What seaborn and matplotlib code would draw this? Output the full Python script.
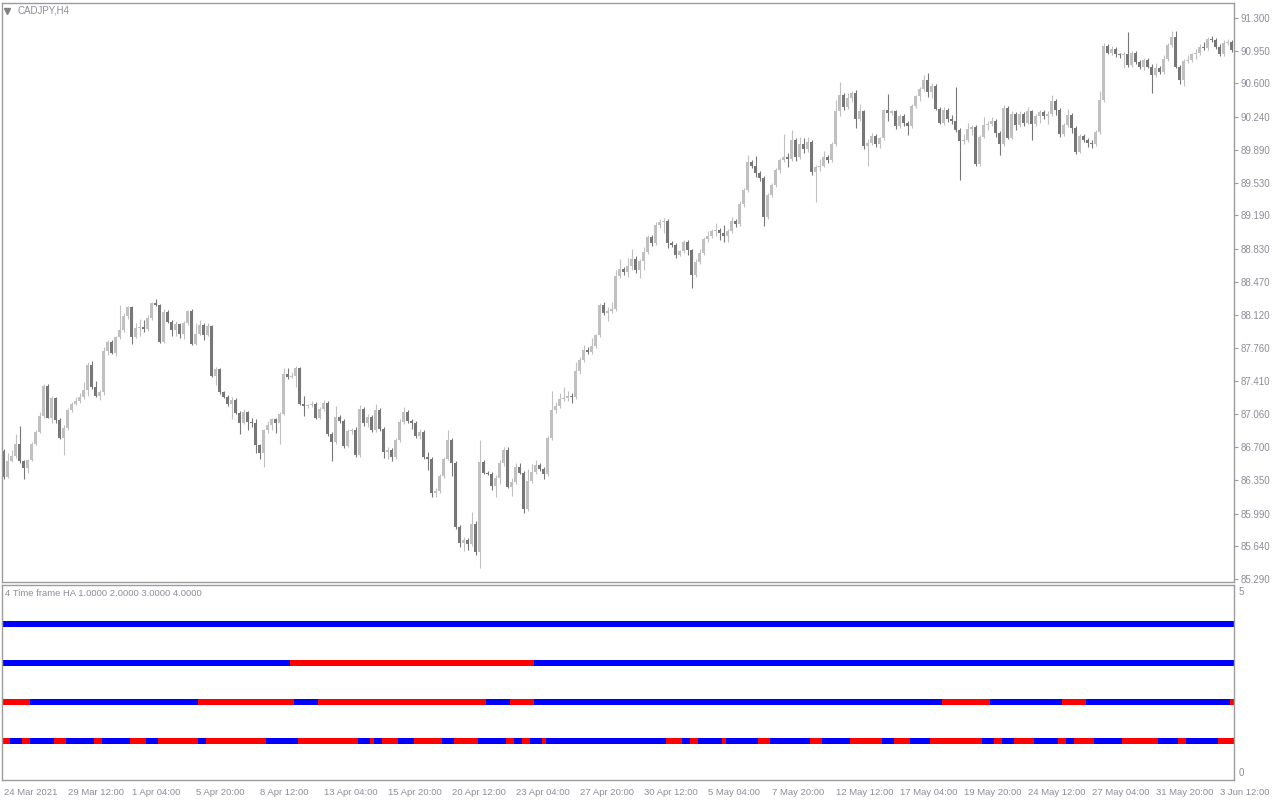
import numpy as np
import pandas as pd
import seaborn as sns
import matplotlib
matplotlib.use('Agg')
import matplotlib.pyplot as plt

# chart texts
symbol_label = 'CADJPY,H4'
indicator_label = '4 Time frame HA 1.0000 2.0000 3.0000 4.0000'

# H4 candles
opens = [
    86.66, 86.38, 86.55, 86.61, 86.74, 86.55, 86.48, 86.56, 86.74, 86.87,
    87.04, 87.36, 87.02, 87.23, 86.99, 86.80, 86.91, 87.10, 87.17, 87.20,
    87.24, 87.31, 87.58, 87.35, 87.25, 87.29, 87.73, 87.83, 87.71, 87.88,
    87.96, 88.11, 88.20, 87.88, 87.98, 87.99, 87.97, 88.09, 88.25, 88.23,
    87.83, 88.15, 88.04, 87.96, 88.02, 87.92, 88.03, 88.16, 87.81, 87.91,
    88.01, 87.90, 88.00, 87.46, 87.54, 87.29, 87.24, 87.17, 87.21, 87.07,
    86.96, 87.08, 86.97, 86.96, 86.73, 86.64, 86.89, 86.94, 87.00, 86.96,
    87.06, 87.49, 87.45, 87.47, 87.55, 87.17, 87.14, 87.15, 87.17, 87.02,
    87.11, 87.18, 86.84, 86.76, 87.03, 86.98, 86.72, 86.88, 86.89, 86.62,
    87.11, 86.96, 87.03, 86.89, 87.10, 86.90, 86.65, 86.67, 86.60, 86.78,
    86.97, 87.08, 86.98, 86.96, 86.82, 86.87, 86.60, 86.58, 86.21, 86.23,
    86.39, 86.58, 86.78, 86.53, 85.85, 85.68, 85.71, 85.66, 85.88, 85.58,
    86.54, 86.43, 86.42, 86.29, 86.37, 86.53, 86.67, 86.28, 86.33, 86.49,
    86.43, 86.04, 86.34, 86.44, 86.51, 86.47, 86.41, 86.80, 87.10, 87.14,
    87.22, 87.23, 87.25, 87.24, 87.52, 87.64, 87.74, 87.72, 87.79, 87.90,
    88.23, 88.14, 88.16, 88.18, 88.54, 88.61, 88.58, 88.64, 88.72, 88.60,
    88.70, 88.79, 88.95, 88.89, 89.08, 89.12, 89.13, 88.89, 88.87, 88.76,
    88.80, 88.90, 88.81, 88.55, 88.69, 88.78, 88.93, 88.96, 89.02, 89.03,
    89.00, 88.97, 89.02, 89.13, 89.09, 89.31, 89.46, 89.76, 89.71, 89.64,
    89.59, 89.17, 89.40, 89.51, 89.67, 89.78, 89.81, 89.79, 89.99, 89.81,
    89.95, 89.90, 89.97, 89.65, 89.70, 89.72, 89.81, 89.78, 89.95, 90.30,
    90.48, 90.35, 90.44, 90.50, 90.22, 90.30, 89.93, 89.96, 90.04, 89.95,
    90.01, 90.31, 90.28, 90.30, 90.14, 90.25, 90.18, 90.14, 90.36, 90.46,
    90.54, 90.64, 90.51, 90.57, 90.33, 90.18, 90.31, 90.22, 90.20, 90.10,
    89.98, 89.99, 90.11, 90.13, 89.74, 90.03, 90.15, 90.16, 90.20, 90.07,
    89.95, 90.34, 90.02, 90.27, 90.15, 90.27, 90.18, 90.30, 90.16, 90.25,
    90.29, 90.25, 90.27, 90.41, 90.32, 90.06, 90.15, 90.26, 90.12, 89.87,
    90.04, 89.99, 89.96, 89.95, 90.08, 90.42, 91.00, 90.93, 90.97, 90.91,
    90.90, 90.91, 90.80, 90.93, 90.83, 90.77, 90.85, 90.78, 90.69, 90.76,
    90.72, 90.86, 91.01, 91.10, 90.78, 90.64, 90.84, 90.85, 90.91, 90.92,
    90.99, 90.98, 91.08, 91.06, 90.99, 90.91, 91.03, 91.04,
]
highs = [
    86.68, 86.64, 86.67, 86.84, 86.93, 86.56, 86.58, 86.76, 86.89, 87.08,
    87.38, 87.38, 87.25, 87.24, 87.01, 86.94, 87.12, 87.19, 87.24, 87.28,
    87.40, 87.62, 87.63, 87.41, 87.31, 87.78, 87.85, 87.85, 87.89, 88.23,
    88.14, 88.21, 88.21, 88.03, 88.08, 88.06, 88.12, 88.26, 88.29, 88.24,
    88.18, 88.17, 88.07, 88.05, 88.03, 88.05, 88.17, 88.18, 88.03, 88.06,
    88.03, 88.03, 88.01, 87.56, 87.55, 87.30, 87.26, 87.24, 87.23, 87.09,
    87.11, 87.09, 87.01, 87.00, 86.74, 86.90, 86.98, 87.01, 87.02, 87.08,
    87.55, 87.55, 87.51, 87.57, 87.56, 87.25, 87.17, 87.20, 87.19, 87.13,
    87.21, 87.20, 86.86, 87.14, 87.05, 87.00, 86.90, 86.91, 86.92, 87.15,
    87.13, 87.06, 87.05, 87.17, 87.12, 86.92, 86.70, 86.69, 86.80, 87.00,
    87.13, 87.10, 87.00, 86.98, 86.90, 86.89, 86.65, 86.60, 86.26, 86.41,
    86.60, 86.89, 86.80, 86.55, 85.87, 85.74, 85.73, 86.01, 85.91, 86.78,
    86.56, 86.45, 86.44, 86.40, 86.56, 86.70, 86.70, 86.37, 86.53, 86.53,
    86.45, 86.47, 86.52, 86.56, 86.53, 86.49, 86.82, 87.30, 87.19, 87.28,
    87.35, 87.30, 87.28, 87.61, 87.67, 87.80, 87.78, 87.87, 87.92, 88.25,
    88.26, 88.20, 88.26, 88.60, 88.72, 88.63, 88.73, 88.83, 88.75, 88.72,
    88.85, 88.98, 88.98, 89.11, 89.15, 89.16, 89.15, 88.91, 88.89, 88.82,
    88.92, 88.92, 88.83, 88.72, 88.83, 88.95, 89.02, 89.04, 89.10, 89.05,
    89.08, 89.04, 89.17, 89.15, 89.34, 89.48, 89.83, 89.78, 89.82, 89.66,
    89.61, 89.43, 89.53, 89.69, 89.80, 90.06, 89.85, 90.10, 90.02, 90.03,
    90.02, 90.03, 89.99, 89.73, 89.79, 89.88, 89.83, 89.97, 90.42, 90.62,
    90.50, 90.50, 90.52, 90.53, 90.38, 90.32, 90.00, 90.07, 90.06, 90.03,
    90.33, 90.49, 90.32, 90.32, 90.27, 90.27, 90.20, 90.38, 90.48, 90.56,
    90.69, 90.71, 90.60, 90.59, 90.35, 90.35, 90.34, 90.26, 90.56, 90.12,
    90.06, 90.18, 90.15, 90.15, 90.05, 90.24, 90.20, 90.24, 90.22, 90.09,
    90.37, 90.36, 90.30, 90.29, 90.30, 90.29, 90.35, 90.32, 90.27, 90.31,
    90.31, 90.30, 90.48, 90.43, 90.34, 90.18, 90.33, 90.28, 90.14, 90.06,
    90.06, 90.01, 89.99, 90.10, 90.52, 91.03, 91.02, 91.00, 90.99, 90.93,
    90.94, 91.15, 90.95, 90.95, 90.85, 90.87, 90.87, 90.81, 90.82, 90.79,
    90.90, 91.03, 91.16, 91.16, 90.80, 90.86, 90.90, 90.93, 90.97, 91.02,
    91.04, 91.10, 91.11, 91.09, 91.02, 91.06, 91.08, 91.06,
]
lows = [
    86.36, 86.37, 86.54, 86.59, 86.53, 86.36, 86.43, 86.55, 86.73, 86.85,
    87.01, 87.01, 86.96, 86.96, 86.79, 86.62, 86.89, 87.08, 87.15, 87.18,
    87.22, 87.25, 87.33, 87.24, 87.21, 87.26, 87.69, 87.70, 87.68, 87.86,
    87.94, 88.08, 87.81, 87.87, 87.89, 87.94, 87.95, 88.06, 88.21, 87.82,
    87.82, 88.03, 87.89, 87.89, 87.87, 87.86, 88.01, 87.80, 87.80, 87.90,
    87.85, 87.89, 87.45, 87.37, 87.27, 87.23, 87.14, 87.00, 87.06, 86.84,
    86.95, 86.89, 86.92, 86.64, 86.58, 86.49, 86.85, 86.89, 86.85, 86.74,
    87.05, 87.43, 87.44, 87.35, 87.15, 87.04, 87.12, 87.13, 87.00, 87.00,
    87.09, 86.82, 86.55, 86.74, 86.96, 86.69, 86.70, 86.84, 86.60, 86.60,
    86.93, 86.92, 86.87, 86.87, 86.88, 86.59, 86.58, 86.55, 86.58, 86.76,
    86.95, 86.96, 86.90, 86.80, 86.79, 86.58, 86.46, 86.17, 86.17, 86.21,
    86.37, 86.56, 86.39, 85.83, 85.63, 85.59, 85.60, 85.64, 85.55, 85.41,
    86.41, 86.40, 86.24, 86.17, 86.31, 86.50, 86.26, 86.18, 86.31, 86.41,
    86.00, 86.02, 86.32, 86.42, 86.45, 86.36, 86.39, 86.78, 87.07, 87.12,
    87.20, 87.20, 87.18, 87.22, 87.49, 87.62, 87.70, 87.70, 87.77, 87.88,
    88.12, 88.05, 88.14, 88.16, 88.52, 88.55, 88.53, 88.60, 88.57, 88.52,
    88.60, 88.77, 88.86, 88.87, 89.05, 89.00, 88.84, 88.85, 88.73, 88.75,
    88.78, 88.76, 88.41, 88.53, 88.66, 88.76, 88.90, 88.94, 88.96, 88.92,
    88.90, 88.90, 89.00, 89.06, 89.07, 89.28, 89.44, 89.69, 89.60, 89.55,
    89.07, 89.15, 89.38, 89.49, 89.64, 89.76, 89.70, 89.77, 89.77, 89.79,
    89.85, 89.87, 89.62, 89.33, 89.66, 89.70, 89.75, 89.76, 89.93, 90.25,
    90.32, 90.33, 90.40, 90.12, 90.20, 89.90, 89.71, 89.94, 89.92, 89.91,
    89.99, 90.20, 90.26, 90.11, 90.12, 90.14, 90.05, 90.12, 90.34, 90.41,
    90.52, 90.45, 90.44, 90.31, 90.16, 90.15, 90.19, 90.17, 90.08, 89.56,
    89.95, 89.97, 90.05, 89.71, 89.72, 90.01, 90.10, 90.14, 90.03, 89.83,
    89.93, 90.00, 90.00, 90.10, 90.13, 90.14, 90.16, 89.99, 90.14, 90.18,
    90.22, 90.16, 90.25, 90.26, 90.03, 90.04, 90.13, 90.07, 89.84, 89.85,
    89.97, 89.92, 89.91, 89.93, 90.06, 90.40, 90.91, 90.90, 90.88, 90.87,
    90.76, 90.78, 90.78, 90.81, 90.75, 90.74, 90.76, 90.50, 90.67, 90.70,
    90.70, 90.84, 90.99, 90.76, 90.59, 90.57, 90.82, 90.83, 90.86, 90.90,
    90.96, 90.96, 91.04, 90.97, 90.89, 90.89, 91.01, 90.94,
]
closes = [
    86.38, 86.55, 86.61, 86.74, 86.55, 86.48, 86.56, 86.74, 86.87, 87.04,
    87.36, 87.02, 87.23, 86.99, 86.80, 86.91, 87.10, 87.17, 87.20, 87.24,
    87.31, 87.58, 87.35, 87.25, 87.29, 87.73, 87.83, 87.71, 87.88, 87.96,
    88.11, 88.20, 87.88, 87.98, 87.99, 87.97, 88.09, 88.25, 88.23, 87.83,
    88.15, 88.04, 87.96, 88.02, 87.92, 88.03, 88.16, 87.81, 87.91, 88.01,
    87.90, 88.00, 87.46, 87.54, 87.29, 87.24, 87.17, 87.21, 87.07, 86.96,
    87.08, 86.97, 86.96, 86.73, 86.64, 86.89, 86.94, 87.00, 86.96, 87.06,
    87.49, 87.45, 87.47, 87.55, 87.17, 87.14, 87.15, 87.17, 87.02, 87.11,
    87.18, 86.84, 86.76, 87.03, 86.98, 86.72, 86.88, 86.89, 86.62, 87.11,
    86.96, 87.03, 86.89, 87.10, 86.90, 86.65, 86.67, 86.60, 86.78, 86.97,
    87.08, 86.98, 86.96, 86.82, 86.87, 86.60, 86.58, 86.21, 86.23, 86.39,
    86.58, 86.78, 86.53, 85.85, 85.68, 85.71, 85.66, 85.88, 85.58, 86.54,
    86.43, 86.42, 86.29, 86.37, 86.53, 86.67, 86.28, 86.33, 86.49, 86.43,
    86.04, 86.34, 86.44, 86.51, 86.47, 86.41, 86.80, 87.10, 87.14, 87.22,
    87.23, 87.25, 87.24, 87.52, 87.64, 87.74, 87.72, 87.79, 87.90, 88.23,
    88.14, 88.16, 88.18, 88.54, 88.61, 88.58, 88.64, 88.72, 88.60, 88.70,
    88.79, 88.95, 88.89, 89.08, 89.12, 89.13, 88.89, 88.87, 88.76, 88.80,
    88.90, 88.81, 88.55, 88.69, 88.78, 88.93, 88.96, 89.02, 89.03, 89.00,
    88.97, 89.02, 89.13, 89.09, 89.31, 89.46, 89.76, 89.71, 89.64, 89.59,
    89.17, 89.40, 89.51, 89.67, 89.78, 89.81, 89.79, 89.99, 89.81, 89.95,
    89.90, 89.97, 89.65, 89.70, 89.72, 89.81, 89.78, 89.95, 90.30, 90.48,
    90.35, 90.44, 90.50, 90.22, 90.30, 89.93, 89.96, 90.04, 89.95, 90.01,
    90.31, 90.28, 90.30, 90.14, 90.25, 90.18, 90.14, 90.36, 90.46, 90.54,
    90.64, 90.51, 90.57, 90.33, 90.18, 90.31, 90.22, 90.20, 90.10, 89.98,
    89.99, 90.11, 90.13, 89.74, 90.03, 90.15, 90.16, 90.20, 90.07, 89.95,
    90.34, 90.02, 90.27, 90.15, 90.27, 90.18, 90.30, 90.16, 90.25, 90.29,
    90.25, 90.27, 90.41, 90.32, 90.06, 90.15, 90.26, 90.12, 89.87, 90.04,
    89.99, 89.96, 89.95, 90.08, 90.42, 91.00, 90.93, 90.97, 90.91, 90.90,
    90.91, 90.80, 90.93, 90.83, 90.77, 90.85, 90.78, 90.69, 90.76, 90.72,
    90.86, 91.01, 91.10, 90.78, 90.64, 90.84, 90.85, 90.91, 90.92, 90.99,
    90.98, 91.08, 91.06, 90.99, 90.91, 91.03, 91.04, 90.96,
]

# price scale labels on the right
price_ticks = [91.300, 90.950, 90.600, 90.240, 89.890, 89.530, 89.190, 88.830, 88.470,
               88.120, 87.760, 87.410, 87.060, 86.700, 86.350, 85.990, 85.640, 85.290]

# time scale labels, one every 16 bars
date_labels = ['24 Mar 2021', '29 Mar 12:00', '1 Apr 04:00', '5 Apr 20:00', '8 Apr 12:00',
               '13 Apr 04:00', '15 Apr 20:00', '20 Apr 12:00', '23 Apr 04:00', '27 Apr 20:00',
               '30 Apr 12:00', '5 May 04:00', '7 May 20:00', '12 May 12:00', '17 May 04:00',
               '19 May 20:00', '24 May 12:00', '27 May 04:00', '31 May 20:00', '3 Jun 12:00']
date_step = 16

# indicator: 4 time frame heiken ashi, colour runs (bars) per level, alternating
row1_first, row1_runs = 'red', [2, 3, 2, 6, 3, 7, 2, 7, 4, 3, 10, 2, 15, 8, 15, 3, 1, 2, 4, 4,
                                7, 3, 6, 7, 2, 2, 2, 3, 1, 30, 4, 2, 2, 6, 1, 8, 3, 10, 3, 7,
                                8, 3, 4, 5, 13, 3, 2, 3, 5, 6, 2, 2, 5, 7, 9, 5, 2, 8, 4]
row2_first, row2_runs = 'red', [7, 42, 24, 6, 42, 6, 6, 102, 12, 18, 6, 36, 1]
row3_first, row3_runs = 'blue', [72, 61, 175]
row4_first, row4_runs = 'blue', [308]

# ---- build tables
df = pd.DataFrame({'open': opens, 'high': highs, 'low': lows, 'close': closes})
df['bar'] = np.arange(len(df))
df['bull'] = df['close'] >= df['open']

seg_rows = []
for level, first, runs in [(1, row1_first, row1_runs), (2, row2_first, row2_runs),
                           (3, row3_first, row3_runs), (4, row4_first, row4_runs)]:
    other = 'blue' if first == 'red' else 'red'
    start = 0
    for k, n in enumerate(runs):
        seg_rows.append({'level': level, 'start': start, 'length': n,
                         'colour': first if k % 2 == 0 else other})
        start += n
segs = pd.DataFrame(seg_rows)

# ---- style
sns.set_style('white')
plt.rcParams['font.family'] = ['Liberation Sans', 'DejaVu Sans']

edge = '#9c9c9c'
txt = '#8c8c98'
bull_col = '#c0c0c0'
bear_col = '#777777'
mt_blue = '#0000ff'
mt_red = '#ff0000'

W, H = 1280, 800
fig = plt.figure(figsize=(12.8, 8), dpi=100)
ax = fig.add_axes([2 / W, 218 / H, 1232 / W, 579 / H])
ax2 = fig.add_axes([2 / W, 20 / H, 1232 / W, 195 / H])

n = len(df)
xlim = (-0.425, n - 0.425)

# ---- candles
for flag, col in [(True, bull_col), (False, bear_col)]:
    sub = df[df['bull'] == flag]
    ax.vlines(sub['bar'], sub['low'], sub['high'], color=col, lw=0.8)
    body = (sub['close'] - sub['open']).to_numpy()
    body = np.where(np.abs(body) < 0.008, 0.008, body)
    ax.bar(sub['bar'], body, bottom=sub['open'], width=0.74, color=col, linewidth=0)

ax.set_xlim(*xlim)
ax.set_ylim(85.258, 91.461)
ax.set_xticks([])
ax.yaxis.tick_right()
ax.set_yticks(price_ticks)
ax.set_yticklabels(['%.3f' % p for p in price_ticks])
ax.tick_params(axis='y', direction='out', length=3, width=0.8, color=edge,
               labelcolor=txt, labelsize=7, pad=2)

ax.plot([5 / 1232], [1 - 8 / 579], marker='v', ms=4.5, color='#808080',
        transform=ax.transAxes, clip_on=False)
ax.annotate(symbol_label, xy=(0, 1), xycoords='axes fraction', xytext=(11.5, -5.3),
            textcoords='offset points', ha='left', va='center', fontsize=7, color=txt)

# ---- indicator panel
colour_map = {'blue': mt_blue, 'red': mt_red}
for _, s in segs.iterrows():
    ax2.broken_barh([(s['start'] - 0.5, s['length'])], (s['level'] - 0.07, 0.14),
                    facecolors=colour_map[s['colour']], linewidth=0)

ax2.set_xlim(*xlim)
ax2.set_ylim(0, 5)
ax2.set_yticks([])
tick_bars = list(range(0, n, date_step))
ax2.set_xticks(tick_bars)
ax2.set_xticklabels(date_labels, ha='left')
ax2.tick_params(axis='x', direction='out', length=4, width=0.8, color=edge,
                labelcolor=txt, labelsize=6.8, pad=1.5)
ax2.annotate('5', xy=(1, 5), xycoords=('axes fraction', 'data'), xytext=(3.6, -5),
             textcoords='offset points', ha='left', va='center', fontsize=7, color=txt)
ax2.annotate('0', xy=(1, 0), xycoords=('axes fraction', 'data'), xytext=(3.6, 5),
             textcoords='offset points', ha='left', va='center', fontsize=7, color=txt)
ax2.annotate(indicator_label, xy=(0, 1), xycoords='axes fraction', xytext=(2.2, -5.8),
             textcoords='offset points', ha='left', va='center', fontsize=6.8, color=txt)

for a in (ax, ax2):
    for sp in a.spines.values():
        sp.set_color(edge)
        sp.set_linewidth(1.0)

fig.savefig('out.png', dpi=100, facecolor='white')
